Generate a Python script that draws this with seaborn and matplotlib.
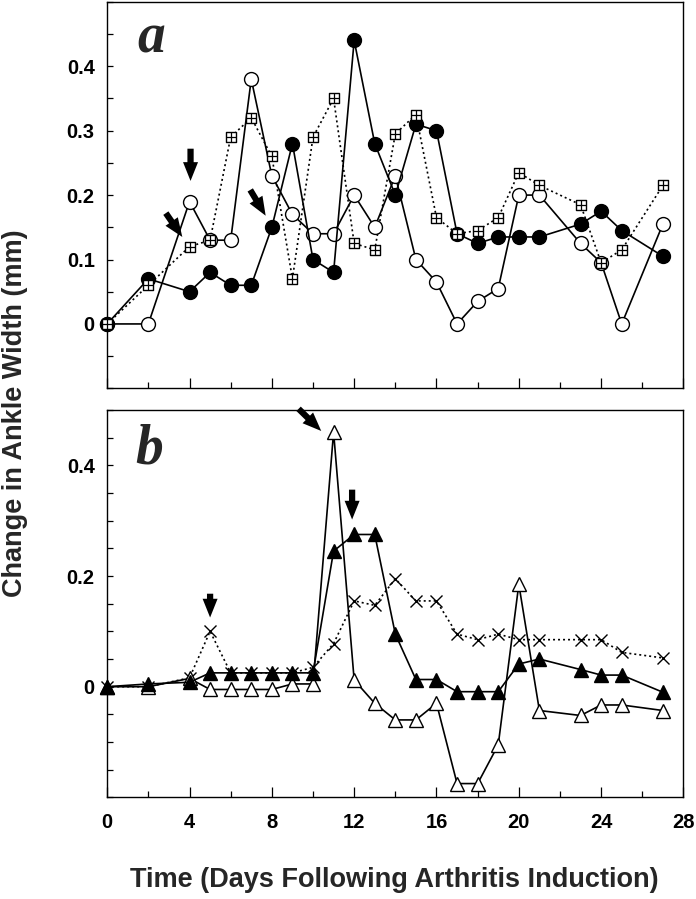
import numpy as np
import pandas as pd
import matplotlib
matplotlib.use("Agg")
import matplotlib.pyplot as plt
import seaborn as sns
from matplotlib.ticker import MultipleLocator, FixedLocator

# Days sampled (same for all series)
days = [0, 2, 4, 5, 6, 7, 8, 9, 10, 11, 12, 13, 14, 15, 16, 17, 18, 19, 20, 21, 23, 24, 25, 27]

# Panel a
open_circle = [0, 0, 0.19, 0.13, 0.13, 0.38, 0.23, 0.17, 0.14, 0.14, 0.20, 0.15,
               0.23, 0.10, 0.065, 0, 0.035, 0.055, 0.20, 0.20, 0.125, 0.095, 0, 0.155]
filled_circle = [0, 0.07, 0.05, 0.08, 0.06, 0.06, 0.15, 0.28, 0.10, 0.08, 0.44, 0.28,
                 0.20, 0.31, 0.30, 0.14, 0.125, 0.135, 0.135, 0.135, 0.155, 0.175, 0.145, 0.105]
plus_square = [0, 0.06, 0.12, 0.13, 0.29, 0.32, 0.26, 0.07, 0.29, 0.35, 0.125, 0.115,
               0.295, 0.325, 0.165, 0.14, 0.145, 0.165, 0.235, 0.215, 0.185, 0.095, 0.115, 0.215]

# Panel b
open_tri = [0, 0, 0.015, -0.005, -0.005, -0.005, -0.005, 0.005, 0.005, 0.46, 0.012, -0.03,
            -0.06, -0.06, -0.03, -0.175, -0.175, -0.105, 0.185, -0.043, -0.052, -0.033, -0.033, -0.043]
filled_tri = [0, 0.005, 0.008, 0.025, 0.025, 0.025, 0.025, 0.025, 0.025, 0.245, 0.275, 0.275,
              0.095, 0.013, 0.013, -0.009, -0.009, -0.009, 0.041, 0.05, 0.031, 0.021, 0.021, -0.01]
cross = [0, 0, 0.016, 0.10, 0.025, 0.025, 0.025, 0.025, 0.035, 0.078, 0.155, 0.147,
         0.195, 0.155, 0.155, 0.095, 0.085, 0.095, 0.085, 0.085, 0.085, 0.085, 0.062, 0.052]

# Arrows (tail -> head) in data coords
arrows_a = [((2.85, 0.172), (3.65, 0.135)), ((4.05, 0.272), (4.05, 0.222)), ((6.95, 0.208), (7.7, 0.168))]
arrows_b = [((5.0, 0.168), (5.0, 0.125)), ((9.3, 0.502), (10.4, 0.462)), ((11.9, 0.356), (11.9, 0.302))]

sns.set_style("white")
plt.rcParams['font.family'] = ['Liberation Sans', 'DejaVu Sans']
plt.rcParams['font.weight'] = 'bold'

fig = plt.figure(figsize=(6.96, 8.99), dpi=100)
ax_a = fig.add_axes([0.154, 0.568, 0.828, 0.430])
ax_b = fig.add_axes([0.154, 0.113, 0.828, 0.431])

dot = (0, (1.2, 1.8))


def draw(ax, y, marker, ms, fc, ls, z=3):
    sns.lineplot(x=days, y=y, ax=ax, color='black', lw=1.2, linestyle=ls,
                 marker=marker, markersize=ms, markerfacecolor=fc,
                 markeredgecolor='black', markeredgewidth=1.0, clip_on=False, zorder=z)


# panel a: dotted line under circles, boxed-plus markers on top
sns.lineplot(x=days, y=plus_square, ax=ax_a, color='black', lw=1.2, linestyle=dot, zorder=2)
draw(ax_a, open_circle, 'o', 10, 'white', '-')
draw(ax_a, filled_circle, 'o', 10, 'black', '-')
sns.scatterplot(x=days, y=plus_square, ax=ax_a, marker='s', s=56, color='white',
                edgecolor='black', linewidth=1.0, zorder=5, clip_on=False)
sns.scatterplot(x=days, y=plus_square, ax=ax_a, marker='+', s=50, color='black',
                linewidth=0.9, zorder=6, clip_on=False)

# panel b
draw(ax_b, cross, 'x', 8.5, 'black', dot)
draw(ax_b, open_tri, '^', 10, 'white', '-')
draw(ax_b, filled_tri, '^', 10, 'black', '-')

for ax, arrows in ((ax_a, arrows_a), (ax_b, arrows_b)):
    for tail, head in arrows:
        ax.annotate('', xy=head, xytext=tail,
                    arrowprops=dict(arrowstyle='simple,head_length=0.75,head_width=0.6,tail_width=0.25',
                                    color='black', lw=0, shrinkA=0, shrinkB=0, mutation_scale=18),
                    zorder=7)

for ax in (ax_a, ax_b):
    ax.set_xlim(0, 28)
    ax.xaxis.set_major_locator(MultipleLocator(4))
    ax.xaxis.set_minor_locator(MultipleLocator(2))
    ax.yaxis.set_minor_locator(MultipleLocator(0.05))
    ax.tick_params(axis='both', which='both', direction='in', left=True, bottom=True,
                   right=False, top=False, width=0.9, colors='black')
    ax.tick_params(axis='x', which='major', length=7)
    ax.tick_params(axis='x', which='minor', length=4)
    ax.tick_params(axis='y', which='both', length=4, pad=9, labelsize=14.5)
    for sp in ax.spines.values():
        sp.set_linewidth(1.0)
        sp.set_color('black')
    ax.set_xlabel('')
    ax.set_ylabel('')

ax_a.set_ylim(-0.1, 0.5)
ax_a.yaxis.set_major_locator(FixedLocator([0, 0.1, 0.2, 0.3, 0.4]))
ax_a.set_yticklabels(['0', '0.1', '0.2', '0.3', '0.4'], fontweight='bold')
ax_a.tick_params(axis='x', labelbottom=False)

ax_b.set_ylim(-0.2, 0.5)
ax_b.yaxis.set_major_locator(FixedLocator([0, 0.2, 0.4]))
ax_b.set_yticklabels(['0', '0.2', '0.4'], fontweight='bold')
ax_b.tick_params(axis='x', labelsize=14.5, pad=11)
for lab in ax_b.get_xticklabels():
    lab.set_fontweight('bold')

ax_a.text(0.052, 0.870, 'a', transform=ax_a.transAxes, fontsize=40, fontweight='bold',
          fontstyle='italic', family='Liberation Serif', va='baseline', ha='left')
ax_b.text(0.049, 0.863, 'b', transform=ax_b.transAxes, fontsize=40, fontweight='bold',
          fontstyle='italic', family='Liberation Serif', va='baseline', ha='left')

fig.text(0.022, 0.540, 'Change in Ankle Width (mm)', rotation=90, ha='center', va='center',
         fontsize=19.5, fontweight='bold')
fig.text(0.567, 0.013, 'Time (Days Following Arthritis Induction)', ha='center', va='baseline',
         fontsize=19.5, fontweight='bold')

fig.savefig('out.png', dpi=100, facecolor='white')
